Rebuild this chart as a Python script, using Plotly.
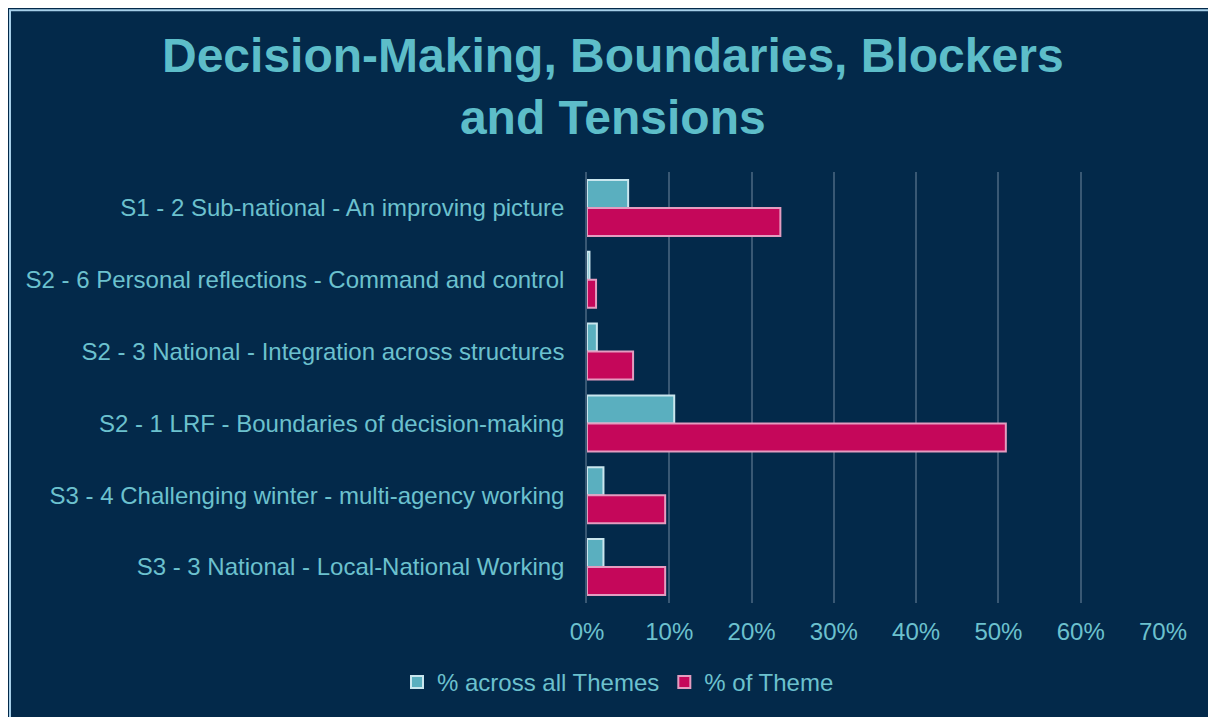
import plotly.graph_objects as go

# Data
categories = [
    "S1 - 2 Sub-national - An improving picture",
    "S2 - 6 Personal reflections - Command and control",
    "S2 - 3 National - Integration across structures",
    "S2 - 1 LRF - Boundaries of decision-making",
    "S3 - 4 Challenging winter - multi-agency working",
    "S3 - 3 National - Local-National Working",
]
across_all = [0.050, 0.003, 0.012, 0.106, 0.020, 0.020]
of_theme = [0.235, 0.011, 0.056, 0.509, 0.095, 0.095]
x_ticks = [0, 0.1, 0.2, 0.3, 0.4, 0.5, 0.6, 0.7]

# page body has an 8px margin, which gives the white edge
W, H = 1204, 709
ML, MR, MT, MB = 579, 49, 164, 111
pw, ph = W - ML - MR, H - MT - MB
NAVY = "#03294a"
TEAL_TXT = "#6cc1ce"


def px_x(p):
    return (p - ML) / pw


def px_y(p):
    return (H - MB - p) / ph


fig = go.Figure()
fig.add_trace(go.Bar(
    y=categories, x=across_all, orientation="h", name="% across all Themes",
    marker=dict(color="#5aafbf", line=dict(color="#c9e6ee", width=2)),
))
fig.add_trace(go.Bar(
    y=categories, x=of_theme, orientation="h", name="% of Theme",
    marker=dict(color="#c5075a", line=dict(color="#e49cc0", width=2)),
))

# thin light border round the panel
fig.add_shape(
    type="rect", xref="paper", yref="paper", layer="below",
    x0=px_x(2), x1=px_x(W - 1), y0=px_y(H + 10), y1=px_y(1),
    line=dict(color="#a6cfe9", width=2),
)

fig.add_annotation(
    text="<b>Decision-Making, Boundaries, Blockers<br>and Tensions</b>",
    xref="paper", yref="paper", x=px_x(605), y=px_y(18),
    xanchor="center", yanchor="top", showarrow=False,
    font=dict(size=48, color="#5dbdc9"),
)

fig.update_layout(
    width=W, height=H,
    margin=dict(l=ML, r=MR, t=MT, b=MB),
    paper_bgcolor=NAVY, plot_bgcolor=NAVY,
    barmode="group", bargap=0.22, bargroupgap=0,
    font=dict(family="Liberation Sans, Arial, sans-serif", size=24, color=TEAL_TXT),
    xaxis=dict(
        range=[0, 0.7], tickvals=x_ticks, tickformat=".0%",
        showgrid=True, gridcolor="rgba(140,160,180,0.4)", gridwidth=1.5,
        zeroline=False, showline=False, ticklabelstandoff=12,
    ),
    yaxis=dict(
        autorange="reversed", showgrid=False, zeroline=False,
        showline=True, linecolor="rgba(140,160,180,0.4)", linewidth=1.5,
        ticklabelstandoff=16,
    ),
    legend=dict(
        orientation="h", x=px_x(610), xanchor="center",
        y=px_y(678), yanchor="middle", font=dict(size=24, color=TEAL_TXT),
        bgcolor="rgba(0,0,0,0)", traceorder="normal",
    ),
    showlegend=True,
)

fig.write_html("out.html")
